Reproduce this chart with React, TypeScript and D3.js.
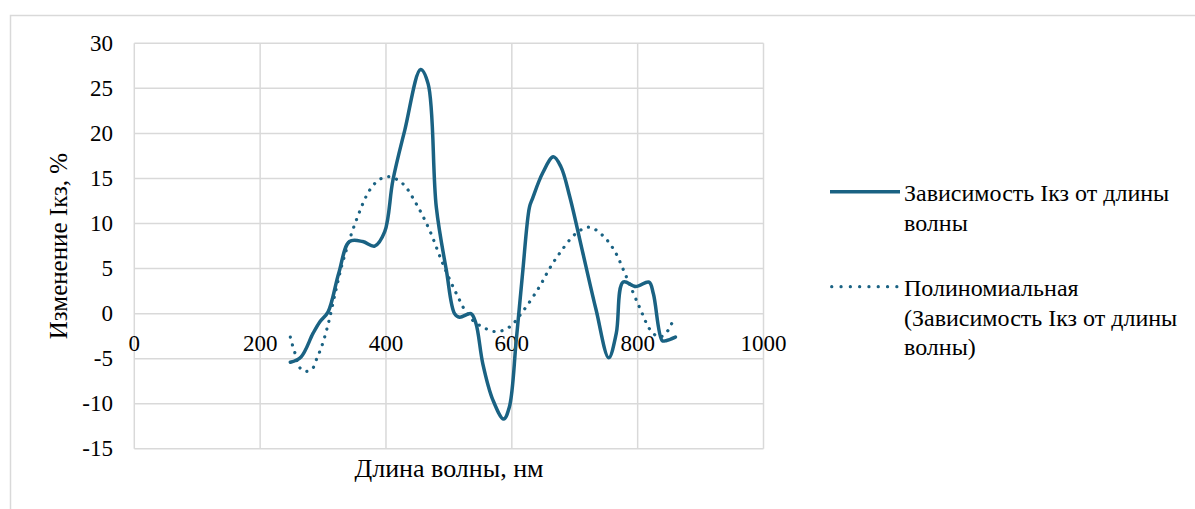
import React from "react";
import * as d3 from "d3";

const xTicks = [0, 200, 400, 600, 800, 1000];
const yTicks = [-15, -10, -5, 0, 5, 10, 15, 20, 25, 30];

const seriesX = [248, 265, 284, 295, 308, 325, 342, 363, 382, 398, 411, 430, 455, 467, 480, 496, 509, 517, 535, 543, 554, 570, 587, 596, 607, 617, 628, 633, 649, 666, 678, 692, 713, 734, 754, 766, 777, 797, 818, 825, 839, 845, 860];
const seriesY = [-5.4, -4.8, -2.2, -0.9, 0.2, 4.5, 8.0, 8.0, 7.5, 9.1, 14.8, 20.4, 27.1, 25.5, 11.8, 4.8, 0, -0.4, 0, -1.1, -5.6, -9.6, -11.7, -10.4, -3, 4.4, 11.8, 12.8, 15.6, 17.4, 16.3, 13.0, 6.7, 0.4, -4.9, -2.2, 3.5, 3.0, 3.5, 2.2, -3.0, -3.0, -2.6];

const trendX = [248, 251, 255, 263, 271, 282, 290, 298, 308, 320, 332, 353, 374, 390, 405, 427, 448, 469, 490, 512, 533, 554, 575, 596, 617, 644, 660, 676, 702, 723, 744, 763, 782, 803, 821, 835, 848, 858];
const trendY = [-2.6, -3.4, -4.3, -6.0, -6.4, -6.2, -5.0, -3.6, -1.2, 2.5, 5.9, 10.4, 13.7, 14.9, 15.2, 14.4, 12.2, 9.3, 5.6, 2.2, -0.4, -1.5, -2.0, -1.5, 0.2, 3.0, 5.0, 6.7, 8.9, 9.6, 8.7, 7.0, 4.1, 0.7, -1.9, -2.6, -1.9, -0.4];

const seriesLegend = ["Зависимость Iкз от длины", "волны"];
const trendLegend = ["Полиномиальная", "(Зависимость Iкз от длины", "волны)"];
const xTitle = "Длина волны, нм";
const yTitle = "Изменение Iкз, %";

const W = 1195;
const H = 509;
const COLOR = "#1a6283";
const GRID = "#d9d9d9";
const FONT = "'Liberation Serif', 'Times New Roman', Tinos, serif";

export default function App() {
  const x = d3.scaleLinear().domain([0, 1000]).range([134.3, 763.5]);
  const y = d3.scaleLinear().domain([-15, 30]).range([448.8, 43.3]);

  const series = seriesX.map((v, i) => [v, seriesY[i]] as [number, number]);
  const trend = trendX.map((v, i) => [v, trendY[i]] as [number, number]);

  const line = d3
    .line<[number, number]>()
    .x((d) => x(d[0]))
    .y((d) => y(d[1]))
    .curve(d3.curveCatmullRom.alpha(0.5));

  const txt = { fontFamily: FONT, fill: "#000" } as React.CSSProperties;
  const legX = 830;
  return (
    <div style={{ position: "absolute", left: 0, top: 0 }}>
      <svg width={W} height={H} style={{ display: "block", background: "#fff" }}>
        <rect x={10.5} y={15.5} width={1300} height={700} fill="#fff" stroke={GRID} strokeWidth={1.5} />
        {xTicks.map((t) => (
          <line key={"gx" + t} x1={x(t)} x2={x(t)} y1={y(30)} y2={y(-15)} stroke={GRID} strokeWidth={1.5} />
        ))}
        {yTicks.map((t) => (
          <line key={"gy" + t} x1={x(0)} x2={x(1000)} y1={y(t)} y2={y(t)} stroke={GRID} strokeWidth={1.5} />
        ))}
        {yTicks.map((t) => (
          <text key={"ty" + t} x={113} y={y(t) + 7.5} textAnchor="end" style={{ ...txt, fontSize: 23 }}>
            {t}
          </text>
        ))}
        {xTicks.map((t) => (
          <text key={"tx" + t} x={x(t)} y={350.5} textAnchor="middle" style={{ ...txt, fontSize: 23 }}>
            {t}
          </text>
        ))}
        <path d={line(trend) || ""} fill="none" stroke={COLOR} strokeWidth={3.2} strokeDasharray="0.1 8" strokeLinecap="round" />
        <path d={line(series) || ""} fill="none" stroke={COLOR} strokeWidth={3.5} strokeLinejoin="round" strokeLinecap="round" />
        <text x={449} y={477} textAnchor="middle" style={{ ...txt, fontSize: 26 }}>
          {xTitle}
        </text>
        <text transform={`translate(67,${(y(30) + y(-15)) / 2}) rotate(-90)`} textAnchor="middle" style={{ ...txt, fontSize: 25 }}>
          {yTitle}
        </text>
        <line x1={legX} x2={900} y1={191.7} y2={191.7} stroke={COLOR} strokeWidth={3.5} />
        {seriesLegend.map((s, i) => (
          <text key={"sl" + i} x={904} y={200.5 + i * 30} style={{ ...txt, fontSize: 24 }}>
            {s}
          </text>
        ))}
        <line x1={831.7} x2={897} y1={286.7} y2={286.7} stroke={COLOR} strokeWidth={3.2} strokeDasharray="0.1 9.2" strokeLinecap="round" />
        {trendLegend.map((s, i) => (
          <text key={"tl" + i} x={904} y={296 + i * 29.5} style={{ ...txt, fontSize: 24 }}>
            {s}
          </text>
        ))}
      </svg>
    </div>
  );
}
